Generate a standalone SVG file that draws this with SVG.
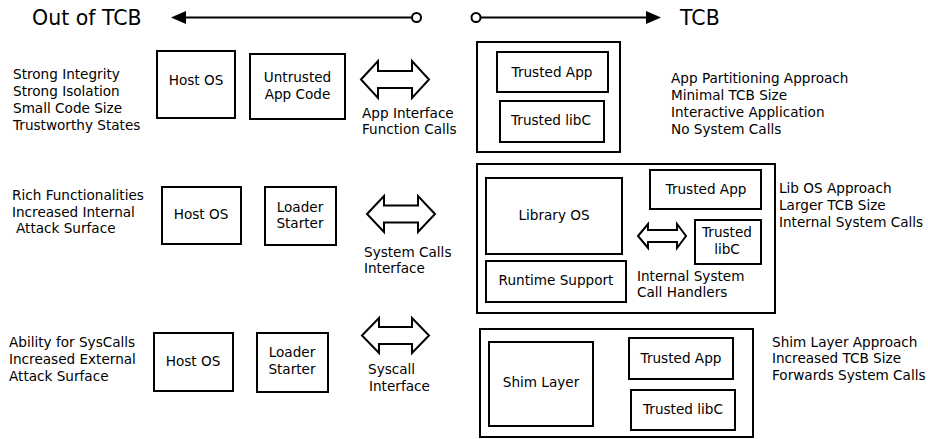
<svg xmlns="http://www.w3.org/2000/svg" width="928" height="439" viewBox="0 0 928 439">
<style>
text{font-family:"DejaVu Sans","Liberation Sans",sans-serif;font-size:13.6px;fill:#000}
.c{text-anchor:middle}
.big{font-size:20.5px}
rect{fill:#fff;stroke:#000;stroke-width:2}
.outer{fill:none}
.dbl{fill:#fff;stroke:#000;stroke-width:2;stroke-linejoin:miter}
.ln{stroke:#000;stroke-width:2;fill:none}
</style>
<rect x="0" y="0" width="928" height="439" style="stroke:none;fill:#fff"/>
<g id="header">
<text class="big" x="32" y="25">Out of TCB</text>
<text class="big" x="680" y="25">TCB</text>
</g>
<g id="row1-left-text">
<text x="13" y="79">Strong Integrity</text>
<text x="13" y="96">Strong Isolation</text>
<text x="13" y="113">Small Code Size</text>
<text x="13" y="130">Trustworthy States</text>
</g>
<g id="row1-hostos"><rect x="157" y="51" width="78" height="67"/><text class="c" x="196" y="85">Host OS</text></g>
<g id="row1-untrusted"><rect x="250" y="54" width="95" height="65"/><text class="c" x="297.5" y="82">Untrusted</text><text class="c" x="297.5" y="99">App Code</text></g>
<g id="row1-iface"><text x="362" y="118">App Interface</text><text x="362" y="134">Function Calls</text></g>
<g id="row1-tcb"><rect class="outer" x="477" y="42" width="143" height="110"/></g>
<g id="row1-trustedapp"><rect x="497" y="52" width="111" height="40"/><text class="c" x="552" y="77">Trusted App</text></g>
<g id="row1-trustedlibc"><rect x="500" y="101" width="104" height="41"/><text class="c" x="551" y="125">Trusted libC</text></g>
<g id="row1-right-text">
<text x="671" y="83">App Partitioning Approach</text>
<text x="671" y="100">Minimal TCB Size</text>
<text x="671" y="117">Interactive Application</text>
<text x="671" y="134">No System Calls</text>
</g>
<g id="row2-left-text">
<text x="12" y="200">Rich Functionalities</text>
<text x="12" y="217">Increased Internal</text>
<text x="16" y="233">Attack Surface</text>
</g>
<g id="row2-hostos"><rect x="162" y="187" width="79" height="57"/><text class="c" x="201" y="219">Host OS</text></g>
<g id="row2-loader"><rect x="265" y="187" width="71" height="58"/><text class="c" x="300" y="212">Loader</text><text class="c" x="300" y="228">Starter</text></g>
<g id="row2-iface"><text x="364" y="257">System Calls</text><text x="364" y="273">Interface</text></g>
<g id="row2-tcb"><rect class="outer" x="477" y="164" width="298" height="149"/></g>
<g id="row2-libos"><rect x="486" y="178" width="136" height="76"/><text class="c" x="554" y="220">Library OS</text></g>
<g id="row2-runtime"><rect x="486" y="261" width="140" height="41"/><text class="c" x="556" y="285">Runtime Support</text></g>
<g id="row2-trustedapp"><rect x="650" y="170" width="111" height="39"/><text class="c" x="706" y="194">Trusted App</text></g>
<g id="row2-trustedlibc"><rect x="695" y="220" width="66" height="44"/><text class="c" x="727" y="237">Trusted</text><text class="c" x="727" y="254">libC</text></g>
<g id="row2-handlers"><text x="637" y="281">Internal System</text><text x="637" y="297">Call Handlers</text></g>
<g id="row2-right-text">
<text x="779" y="193">Lib OS Approach</text>
<text x="779" y="210">Larger TCB Size</text>
<text x="779" y="227">Internal System Calls</text>
</g>
<g id="row3-left-text">
<text x="9" y="347">Ability for SysCalls</text>
<text x="9" y="364">Increased External</text>
<text x="9" y="381">Attack Surface</text>
</g>
<g id="row3-hostos"><rect x="154" y="333" width="79" height="58"/><text class="c" x="193" y="366">Host OS</text></g>
<g id="row3-loader"><rect x="257" y="333" width="71" height="59"/><text class="c" x="292" y="357">Loader</text><text class="c" x="292" y="374">Starter</text></g>
<g id="row3-iface"><text x="368" y="374">Syscall</text><text x="369" y="391">Interface</text></g>
<g id="row3-tcb"><rect class="outer" x="480" y="329" width="273" height="108"/></g>
<g id="row3-shim"><rect x="489" y="342" width="104" height="84"/><text class="c" x="541" y="387">Shim Layer</text></g>
<g id="row3-trustedapp"><rect x="629" y="338" width="104" height="41"/><text class="c" x="681" y="363">Trusted App</text></g>
<g id="row3-trustedlibc"><rect x="631" y="390" width="104" height="40"/><text class="c" x="683" y="414">Trusted libC</text></g>
<g id="row3-right-text">
<text x="772" y="347">Shim Layer Approach</text>
<text x="772" y="363">Increased TCB Size</text>
<text x="772" y="380">Forwards System Calls</text>
</g>
<g id="connectors">
<line class="ln" x1="184" y1="17.5" x2="412" y2="17.5"/>
<polygon points="171,17.5 186,11 186,24" fill="#000"/>
<circle cx="416.5" cy="17.5" r="4.5" fill="#fff" stroke="#000" stroke-width="2"/>
<line class="ln" x1="481" y1="17.5" x2="648" y2="17.5"/>
<polygon points="661,17.5 646,11 646,24" fill="#000"/>
<circle cx="476" cy="17.5" r="4.5" fill="#fff" stroke="#000" stroke-width="2"/>
<polygon class="dbl" points="361,79.5 378,61 378,71 412,71 412,61 429,79.5 412,98 412,88 378,88 378,98"/>
<polygon class="dbl" points="367,214 384,196 384,205.5 418,205.5 418,196 435,214 418,232 418,222.5 384,222.5 384,232"/>
<polygon class="dbl" points="362,335.5 379,318 379,327 412,327 412,318 429,335.5 412,353 412,344 379,344 379,353"/>
<polygon class="dbl" points="638,236 648,224 648,230 677,230 677,224 686,236 677,248 677,242 648,242 648,248"/>
</g>
</svg>
